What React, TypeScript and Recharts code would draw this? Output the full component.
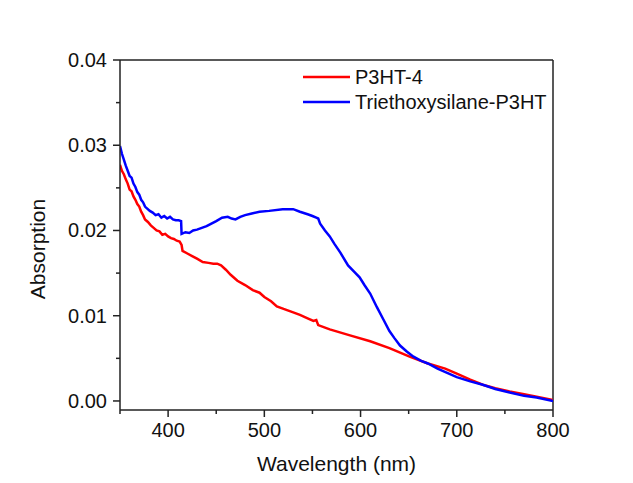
import React from 'react';
import { LineChart, Line, XAxis, YAxis, ReferenceLine } from 'recharts';

const seriesNames = ['P3HT-4', 'Triethoxysilane-P3HT'];
const seriesColors = ['#ff0000', '#0000ff'];

const redWavelength = [350, 352, 354, 356, 358, 360, 362, 364, 366, 368, 370, 372, 374, 376, 379, 382, 385, 388, 391, 394, 397, 400, 403, 406, 409, 412, 414, 415, 420, 425, 430, 436, 442, 447, 451, 455, 460, 465, 472, 480, 488, 495, 500, 507, 513, 520, 530, 537, 545, 551, 554, 556, 568, 589, 610, 630, 651, 670, 688, 700, 714, 727, 740, 755, 770, 783, 800];
const redAbs = [0.0277, 0.0270, 0.0266, 0.0260, 0.0255, 0.0248, 0.0246, 0.0240, 0.0236, 0.0231, 0.0228, 0.0222, 0.0218, 0.0213, 0.0210, 0.0206, 0.0203, 0.0200, 0.0199, 0.0195, 0.0196, 0.0193, 0.0191, 0.0190, 0.0188, 0.0187, 0.0183, 0.0176, 0.0173, 0.0170, 0.0167, 0.0163, 0.0162, 0.0161, 0.0161, 0.0159, 0.0154, 0.0148, 0.0141, 0.0136, 0.0130, 0.0127, 0.0122, 0.0117, 0.0111, 0.0108, 0.0104, 0.0101, 0.0097, 0.0094, 0.0095, 0.0089, 0.0084, 0.0077, 0.0070, 0.0062, 0.0052, 0.0044, 0.0038, 0.0032, 0.0025, 0.0019, 0.0015, 0.0011, 0.0008, 0.0005, 0.0001];

const blueWavelength = [350, 352, 354, 356, 358, 360, 362, 364, 366, 368, 370, 372, 374, 376, 378, 381, 384, 387, 390, 393, 396, 399, 402, 405, 408, 411, 413.5, 414, 418, 422, 426, 430, 435, 440, 445, 450, 456, 462, 466, 470, 475, 480, 487, 495, 505, 519, 530, 537, 545, 550, 554, 556, 558, 563, 568, 573, 579, 587, 593, 599, 604, 610, 617, 624, 630, 635, 641, 648, 655, 663, 670, 680, 690, 700, 714, 727, 740, 755, 770, 783, 800];
const blueAbs = [0.0299, 0.0290, 0.0283, 0.0276, 0.0270, 0.0264, 0.0262, 0.0255, 0.0251, 0.0245, 0.0242, 0.0236, 0.0233, 0.0228, 0.0226, 0.0223, 0.0221, 0.0218, 0.0219, 0.0215, 0.0217, 0.0214, 0.0216, 0.0213, 0.0212, 0.0212, 0.0211, 0.0196, 0.0198, 0.0197, 0.0200, 0.0201, 0.0203, 0.0205, 0.0208, 0.0211, 0.0215, 0.0216, 0.0214, 0.0213, 0.0216, 0.0218, 0.0220, 0.0222, 0.0223, 0.0225, 0.0225, 0.0222, 0.0219, 0.0217, 0.0215, 0.0214, 0.0208, 0.0200, 0.0193, 0.0184, 0.0174, 0.0159, 0.0152, 0.0145, 0.0136, 0.0126, 0.0110, 0.0095, 0.0082, 0.0074, 0.0065, 0.0058, 0.0052, 0.0047, 0.0044, 0.0038, 0.0033, 0.0028, 0.0023, 0.0019, 0.0014, 0.0010, 0.0006, 0.0004, 0.0000];

const xTicks = [350, 400, 450, 500, 550, 600, 650, 700, 750, 800];
const yTicks = [0, 0.005, 0.01, 0.015, 0.02, 0.025, 0.03, 0.035, 0.04];
const yLabels = ['0.00', '0.01', '0.02', '0.03', '0.04'];

const redData = redWavelength.map((w, i) => ({ w, v: redAbs[i] }));
const blueData = blueWavelength.map((w, i) => ({ w, v: blueAbs[i] }));

const FONT = '"Liberation Sans", Arial, sans-serif';
const AX = '#222';

const XTick = (props: any) => {
  const { x, y, payload } = props;
  const major = payload.value % 100 === 0;
  return (
    <g>
      <line x1={x} y1={y} x2={x} y2={y + (major ? 7 : 4)} stroke={AX} strokeWidth={1.5} />
      {major && (
        <text x={x} y={y + 27} textAnchor="middle" fontFamily={FONT} fontSize={20} fill="#111">
          {payload.value}
        </text>
      )}
    </g>
  );
};

const YTick = (props: any) => {
  const { x, y, payload } = props;
  const k = Math.round(payload.value * 1000);
  const major = k % 10 === 0;
  return (
    <g>
      <line x1={x} y1={y} x2={x - (major ? 7 : 4)} y2={y} stroke={AX} strokeWidth={1.5} />
      {major && (
        <text x={x - 13} y={y + 7} textAnchor="end" fontFamily={FONT} fontSize={20} fill="#111">
          {yLabels[k / 10]}
        </text>
      )}
    </g>
  );
};

export default function App() {
  return (
    <div style={{ position: 'absolute', left: 0, top: 0, width: 633, height: 483, background: '#fff' }}>
      <LineChart width={633} height={483} margin={{ top: 60, right: 80, bottom: 28, left: 60 }}>
        <XAxis
          dataKey="w"
          type="number"
          domain={[350, 800]}
          ticks={xTicks}
          interval={0}
          allowDataOverflow
          tickSize={0}
          tickMargin={0}
          height={45}
          tick={<XTick />}
          tickLine={false}
          axisLine={{ stroke: AX, strokeWidth: 1.5 }}
          label={{
            content: (p: any) => {
              const vb = p.viewBox;
              return (
                <text x={vb.x + vb.width / 2} y={vb.y + 61} textAnchor="middle" fontFamily={FONT} fontSize={21} fill="#111">
                  Wavelength (nm)
                </text>
              );
            },
          }}
        />
        <YAxis
          type="number"
          domain={[-0.00106, 0.04]}
          ticks={yTicks}
          interval={0}
          allowDataOverflow
          tickSize={0}
          tickMargin={0}
          width={60}
          tick={<YTick />}
          tickLine={false}
          axisLine={{ stroke: AX, strokeWidth: 1.5 }}
          label={{
            content: () => (
              <text x={45} y={249} textAnchor="middle" transform="rotate(-90, 45, 249)" fontFamily={FONT} fontSize={21} fill="#111">
                Absorption
              </text>
            ),
          }}
        />
        <ReferenceLine y={0.04} stroke={AX} strokeWidth={1.5} />
        <ReferenceLine x={800} stroke={AX} strokeWidth={1.5} />
        <Line data={redData} dataKey="v" name={seriesNames[0]} stroke={seriesColors[0]} strokeWidth={2.5} dot={false} type="linear" isAnimationActive={false} />
        <Line data={blueData} dataKey="v" name={seriesNames[1]} stroke={seriesColors[1]} strokeWidth={2.5} dot={false} type="linear" isAnimationActive={false} />
      </LineChart>
      <svg width={633} height={483} style={{ position: 'absolute', left: 0, top: 0, pointerEvents: 'none' }}>
        {seriesNames.map((n, i) => (
          <g key={n}>
            <line x1={303} x2={350} y1={77 + i * 25} y2={77 + i * 25} stroke={seriesColors[i]} strokeWidth={2.5} />
            <text x={355} y={84 + i * 25} fontFamily={FONT} fontSize={20} fill="#111">
              {n}
            </text>
          </g>
        ))}
      </svg>
    </div>
  );
}
